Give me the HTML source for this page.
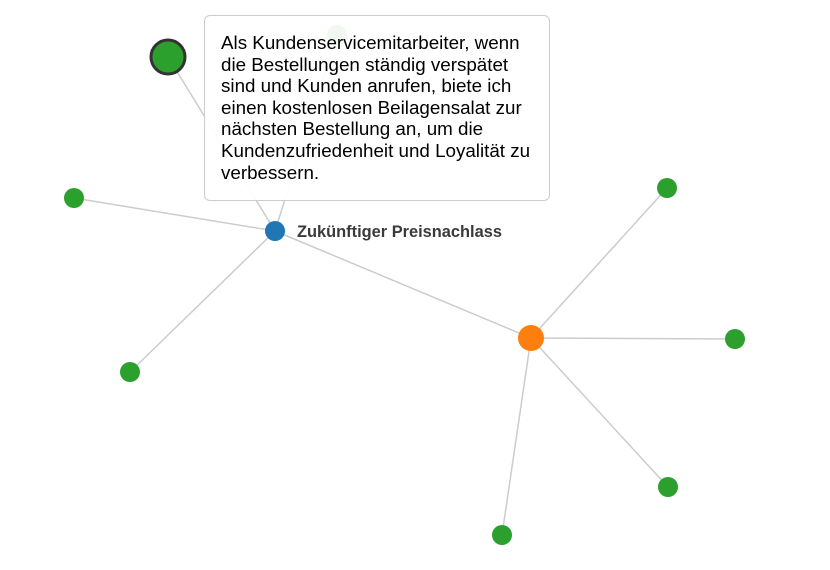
<!DOCTYPE html>
<html><head><meta charset="utf-8"><style>
body{margin:0;background:#fff;width:830px;height:570px;overflow:hidden;position:relative;font-family:"Liberation Sans",sans-serif}
.tip{position:absolute;left:204px;top:15px;width:346px;height:186px;padding:16px 0 0 16px;border:1px solid #ccc;border-radius:6px;background:rgba(255,255,255,0.93);font-size:18.8px;line-height:21.6px;color:#000;box-sizing:border-box;white-space:nowrap}
</style></head><body>
<svg width="830" height="570" style="position:absolute;left:0;top:0">
<g stroke="#ccc" stroke-width="1.5">
<line x1="275" y1="231" x2="168" y2="57"/>
<line x1="275" y1="231" x2="337" y2="35"/>
<line x1="275" y1="231" x2="74" y2="198"/>
<line x1="275" y1="231" x2="130" y2="372"/>
<line x1="275" y1="231" x2="531" y2="338"/>
<line x1="531" y1="338" x2="667" y2="188"/>
<line x1="531" y1="338" x2="735" y2="339"/>
<line x1="531" y1="338" x2="668" y2="487"/>
<line x1="531" y1="338" x2="502" y2="535"/>
</g>
<g fill="#2ca02c">
<circle cx="337" cy="35" r="10"/>
<circle cx="74" cy="198" r="10"/>
<circle cx="130" cy="372" r="10"/>
<circle cx="667" cy="188" r="10"/>
<circle cx="735" cy="339" r="10"/>
<circle cx="668" cy="487" r="10"/>
<circle cx="502" cy="535" r="10"/>
<circle cx="168" cy="57" r="17" stroke="#333" stroke-width="3"/>
</g>
<circle cx="275" cy="231" r="10" fill="#1f77b4"/>
<circle cx="531" cy="338" r="13" fill="#ff7f0e"/>
<text x="297" y="237" font-family="Liberation Sans, sans-serif" font-size="16.4" font-weight="bold" fill="#3a3a3a">Zukünftiger Preisnachlass</text>
</svg>
<div class="tip">Als Kundenservicemitarbeiter, wenn<br>die Bestellungen ständig verspätet<br>sind und Kunden anrufen, biete ich<br>einen kostenlosen Beilagensalat zur<br>nächsten Bestellung an, um die<br>Kundenzufriedenheit und Loyalität zu<br>verbessern.</div>
</body></html>
